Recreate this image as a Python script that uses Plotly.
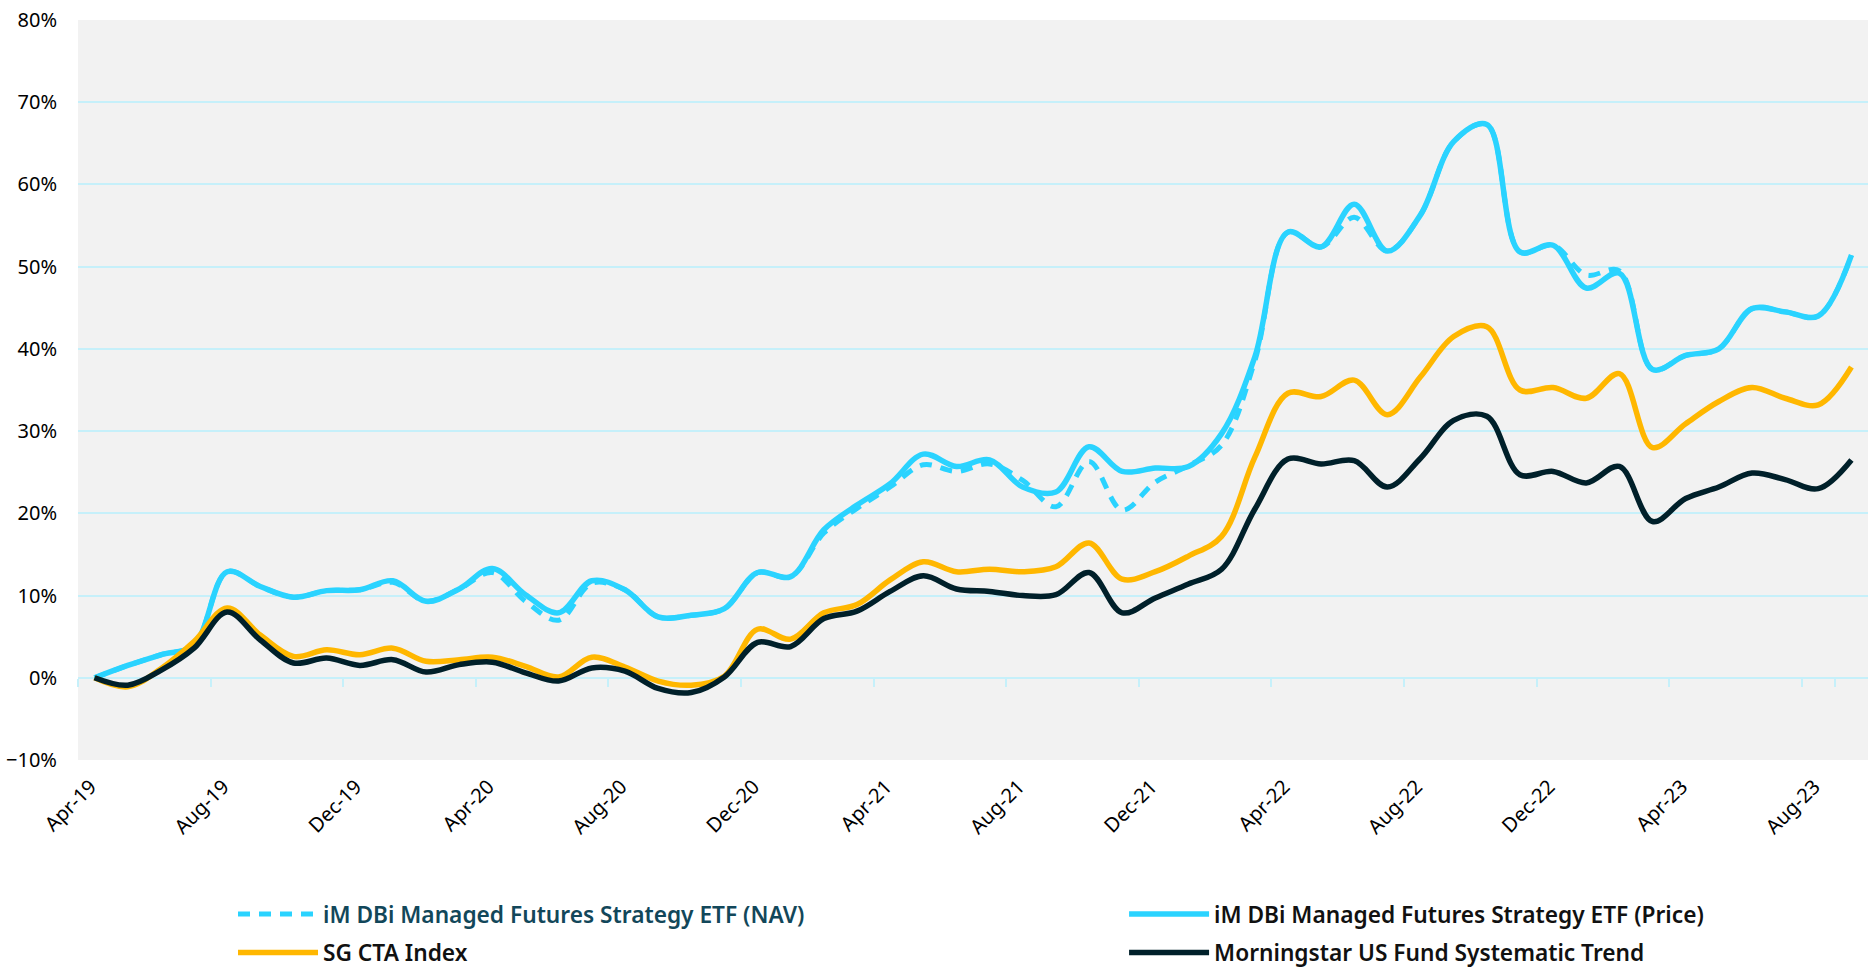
import plotly.graph_objects as go
import pandas as pd

# Categories (monthly, Apr-19 .. Sep-23)
months = pd.date_range("2019-04-01", periods=54, freq="MS").strftime("%b-%y").tolist()
tick_labels = months[::4]

# Cumulative returns (%)
etf_price = [0, 1.5, 2.8, 4.0, 12.9, 11.1, 9.8, 10.6, 10.7, 11.8,
             9.3, 10.8, 13.3, 10.1, 7.9, 11.8, 10.7, 7.4, 7.6, 8.4,
             12.8, 12.3, 18.0, 21.0, 23.6, 27.2, 25.7, 26.5, 23.2, 22.6,
             28.1, 25.1, 25.5, 25.7, 29.7, 39.0, 54.2, 52.4, 57.6, 51.9,
             56.3, 65.2, 67.3, 51.8, 52.6, 47.4, 49.2, 37.5, 39.2, 40.0,
             44.9, 44.5, 44.0, 51.4]

etf_nav = [0, 1.5, 2.8, 4.0, 12.9, 11.1, 9.8, 10.6, 10.7, 11.6,
           9.3, 10.8, 12.8, 9.3, 7.0, 11.5, 10.7, 7.4, 7.6, 8.4,
           12.8, 12.3, 17.6, 20.6, 23.2, 25.9, 25.1, 26.0, 24.0, 20.8,
           26.3, 20.4, 23.8, 25.8, 28.3, 38.5, 54.2, 52.4, 56.0, 51.9,
           56.3, 65.2, 67.3, 51.8, 52.6, 49.0, 49.5, 37.5, 39.2, 40.0,
           44.9, 44.5, 44.0, 51.4]

sg_cta = [0, -1.1, 1.1, 4.4, 8.5, 5.2, 2.6, 3.4, 2.8, 3.6,
          2.0, 2.2, 2.5, 1.4, 0.1, 2.5, 1.3, -0.4, -0.9, 0.2,
          5.9, 4.7, 7.9, 8.9, 11.9, 14.1, 12.9, 13.2, 12.9, 13.5,
          16.4, 12.0, 12.9, 14.8, 17.2, 26.8, 34.6, 34.2, 36.2, 32.0,
          36.6, 41.5, 42.7, 35.0, 35.3, 34.0, 37.0, 28.0, 30.9, 33.6,
          35.3, 34.0, 33.2, 37.8]

morningstar = [0, -0.9, 0.9, 3.6, 8.0, 4.6, 1.8, 2.4, 1.5, 2.2,
               0.7, 1.6, 1.9, 0.6, -0.4, 1.2, 0.8, -1.3, -1.8, 0.1,
               4.3, 3.8, 7.2, 8.1, 10.5, 12.4, 10.8, 10.5, 10.0, 10.1,
               12.8, 7.9, 9.7, 11.4, 13.2, 20.5, 26.6, 26.0, 26.4, 23.2,
               26.7, 31.3, 31.8, 24.7, 25.1, 23.7, 25.7, 19.0, 21.8, 23.2,
               24.9, 24.1, 23.0, 26.5]

names = [
    "iM DBi Managed Futures Strategy ETF (NAV)",
    "iM DBi Managed Futures Strategy ETF (Price)",
    "SG CTA Index",
    "Morningstar US Fund Systematic Trend",
]

BLUE = "#2AD3FF"
ORANGE = "#FFB700"
DARK = "#00202A"
GRID = "#C6F0FA"
BG = "#F2F2F2"

fig = go.Figure()

fig.add_trace(go.Scatter(
    x=months, y=etf_nav, mode="lines",
    name="<span style='color:#12475A'>" + names[0] + "</span>",
    line=dict(color=BLUE, width=5, dash="12px,9px", shape="spline", smoothing=1.0),
    legend="legend"))
fig.add_trace(go.Scatter(
    x=months, y=etf_price, mode="lines", name=names[1],
    line=dict(color=BLUE, width=5.5, shape="spline", smoothing=1.0),
    legend="legend2"))
fig.add_trace(go.Scatter(
    x=months, y=sg_cta, mode="lines", name=names[2],
    line=dict(color=ORANGE, width=5.5, shape="spline", smoothing=1.0),
    legend="legend3"))
fig.add_trace(go.Scatter(
    x=months, y=morningstar, mode="lines", name=names[3],
    line=dict(color=DARK, width=5.5, shape="spline", smoothing=1.0),
    legend="legend4"))

# helper trace for the tick-mark axis at 0%
fig.add_trace(go.Scatter(x=months, y=[None] * len(months), xaxis="x2", yaxis="y",
                         mode="lines", showlegend=False, hoverinfo="skip"))

x_tick_font = dict(family="Noto Sans, sans-serif", size=20, color="#000000")
y_tick_font = dict(family="Noto Sans, sans-serif", size=20, color="#000000")
legend_font = dict(family="Noto Sans, sans-serif", size=22.7, color="#111111", weight=600)


def leg(x, y):
    return dict(
        orientation="h", xref="paper", yref="paper", x=x, y=y,
        xanchor="left", yanchor="middle",
        font=legend_font, bgcolor="rgba(0,0,0,0)", itemwidth=80,
    )


fig.update_layout(
    width=1868, height=968,
    margin=dict(l=78, r=0, t=20, b=208, autoexpand=False),
    paper_bgcolor="#FFFFFF",
    plot_bgcolor=BG,
    xaxis=dict(
        type="category", categoryorder="array", categoryarray=months,
        range=[-0.5, len(months) - 0.5],
        tickmode="array", tickvals=tick_labels, ticktext=tick_labels,
        tickangle=-45, showgrid=False, zeroline=False, showline=False,
        ticks="", tickfont=x_tick_font, ticklabelstandoff=10, ticklabelshift=-4,
    ),
    xaxis2=dict(
        type="category", categoryorder="array", categoryarray=months,
        range=[-0.5, len(months) - 0.5], overlaying="x", anchor="free",
        position=10 / 90, side="bottom",
        tickmode="array", tickvals=tick_labels, tickson="boundaries",
        ticks="outside", ticklen=8, tickwidth=2, tickcolor=GRID,
        showticklabels=False, showgrid=False, zeroline=False, showline=False,
    ),
    yaxis=dict(
        range=[-10, 80], tickmode="linear", tick0=-10, dtick=10,
        ticksuffix="%", showgrid=True, gridcolor=GRID, gridwidth=2,
        zeroline=False, showline=False, ticks="", tickfont=y_tick_font,
        ticklabelstandoff=20,
    ),
    legend=leg(0.0866, -0.2085),
    legend2=leg(0.5844, -0.2085),
    legend3=leg(0.0866, -0.2605),
    legend4=leg(0.5844, -0.2605),
    showlegend=True,
)

fig.write_html("out.html", config={"displayModeBar": False},
               post_script="document.body.style.margin='0';document.body.style.overflow='hidden';")
